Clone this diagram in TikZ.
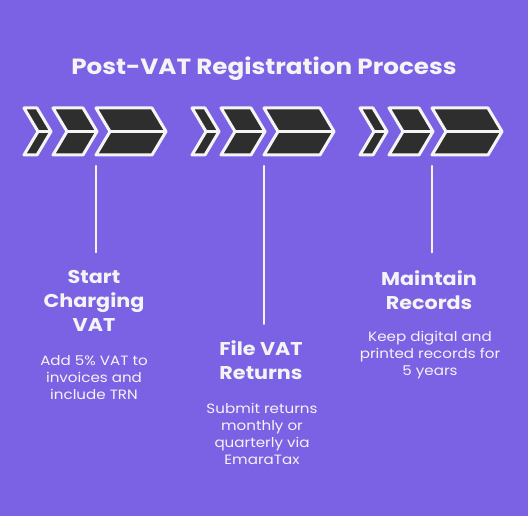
\documentclass[tikz,border=0pt]{standalone}
\usepackage{fontspec}
\setmainfont{Poppins}[FakeStretch=1.12]
\usetikzlibrary{positioning}
\definecolor{bgpurple}{HTML}{7B62E5}
\definecolor{chevfill}{HTML}{2E2E2E}
\definecolor{offwhite}{HTML}{F4F4F4}
\begin{document}
\begin{tikzpicture}[x=1pt, y=-1pt,
    chevron/.style ={fill=chevfill, draw=offwhite, line width=3pt, line join=round},
    splitline/.style ={draw=offwhite, line width=3pt},
    stem/.style ={draw=offwhite, line width=2.5pt, line cap=round},
    heading/.style ={text=offwhite, font=\fontsize{22}{26}\selectfont\bfseries},
    steptitle/.style ={text=offwhite, align=center, inner sep=0pt,
        font=\fontsize{18.5}{24}\selectfont\bfseries},
    stepdesc/.style ={text=offwhite, align=center, inner sep=0pt,
        font=\fontsize{13.5}{17}\selectfont}]
   \fill[bgpurple] (0,0) rectangle (528,516);
   \useasboundingbox (0,0) rectangle (528,516);
   \node[heading] (title) at (264,69) {Post-VAT Registration Process};
   % three groups of chevrons
   \foreach \gx [count=\i] in {24,192,360}{
      \foreach \l/\w in {0/13, 29/30, 72/56}{
         \draw[chevron] (\gx+\l,108) -- ++(\w,0) -- ++(14,23.5) -- ++(-14,23.5)
            -- ++(-\w,0) -- ++(14,-23.5) -- cycle;
         \draw[splitline] (\gx+\l+14,131.5) -- ++(\w,0);
      }
      \coordinate (c\i) at (\gx+72,166);
   }
   \node[steptitle] (t1) at (94,301) {Start\\Charging\\VAT};
   \node[stepdesc] (d1) at (94,378) {Add 5\% VAT to\\invoices and\\include TRN};
   \node[steptitle] (t2) at (261,360.5) {File VAT\\Returns};
   \node[stepdesc] (d2) at (262,433.5) {Submit returns\\monthly or\\quarterly via\\EmaraTax};
   \node[steptitle] (t3) at (429,290) {Maintain\\Records};
   \node[stepdesc] (d3) at (430,355.5) {Keep digital and\\printed records for\\5 years};
   \draw[stem, shorten >=18pt] (c1) -- (c1 |- t1.north);
   \draw[stem, shorten >=17pt] (c2) -- (c2 |- t2.north);
   \draw[stem, shorten >=18pt] (c3) -- (c3 |- t3.north);
\end{tikzpicture}
\end{document}
